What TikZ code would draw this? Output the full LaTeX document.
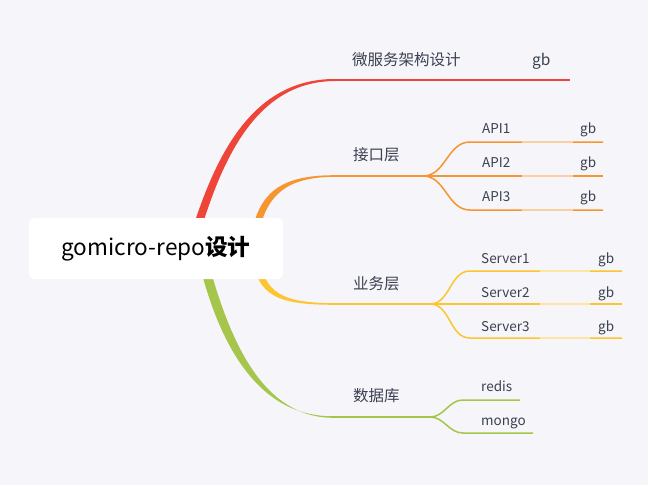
\documentclass[tikz,border=0pt]{standalone}
\usepackage{fontspec}
\setmainfont{Noto Sans CJK SC}
\usetikzlibrary{positioning}
\definecolor{paper}{HTML}{F5F5FA}
\definecolor{redb}{HTML}{EF4538}
\definecolor{orangeb}{HTML}{F7952F}
\definecolor{yellowb}{HTML}{FDC530}
\definecolor{greenb}{HTML}{A5C64A}
\definecolor{ink}{HTML}{3B4151}

\begin{document}
\begin{tikzpicture}
    [x=1pt, y=-1pt,
    topic/.style={anchor=base west, inner sep=0pt, text=ink, font=\fontsize{15.5}{18}\selectfont},
    leaf/.style={anchor=base west, inner sep=0pt, text=ink, font=\fontsize{13.5}{16}\selectfont},
    rootbox/.style={fill=white, rounded corners=5pt, minimum width=254pt, minimum height=61pt, inner sep=0pt, font=\fontsize{22.6}{26}\selectfont},
    twig/.style={line width=1.5pt},
    faded/.style={line width=1.5pt, #1!45}]
     \fill[paper] (0,0) rectangle (648,485);
     \useasboundingbox (0,0) rectangle (648,485);
     % junction points
     \coordinate (t1) at (335,80);  \coordinate (t1e) at (570,80);
     \coordinate (t2) at (335,176); \coordinate (j2) at (423,176);
     \coordinate (t3) at (335,304); \coordinate (j3) at (430,304);
     \coordinate (t4) at (335,417); \coordinate (j4) at (430,417);
     \coordinate (a1) at (470,142); \coordinate (a1e) at (603,142);
     \coordinate (a2e) at (603,176);
     \coordinate (a3) at (470,210); \coordinate (a3e) at (603,210);
     \coordinate (s1) at (470,271); \coordinate (s1e) at (622,271);
     \coordinate (s2e) at (622,304);
     \coordinate (s3) at (470,338); \coordinate (s3e) at (622,338);
     \coordinate (d1) at (463,400); \coordinate (d1e) at (520,400);
     \coordinate (d2) at (463,433); \coordinate (d2e) at (533,433);
     % trunks
     \fill[redb] (186,250) .. controls (211,165) and (247,78.8) .. (335,79)
        -- (335,81) .. controls (253,81.5) and (219,165) .. (195,250) -- cycle;
     \fill[greenb] (196,250) .. controls (214,330) and (251,418.2) .. (335,416.2)
        -- (335,417.8) .. controls (258,419) and (226,330) .. (205,250) -- cycle;
     \fill[orangeb] (249,250) .. controls (255,194) and (277,175.2) .. (335,175.2)
        -- (335,176.8) .. controls (283,177) and (262,197) .. (256,250) -- cycle;
     \fill[yellowb] (252,255) .. controls (257,296) and (277,304.8) .. (335,304.8)
        -- (335,303.2) .. controls (283,303) and (264,294) .. (259,255) -- cycle;
     \node[rootbox] (root) at (156,248.5) {gomicro-repo\textbf{设计}};
     % branches
     \draw[redb, line width=2pt] (t1) -- (t1e);
     \draw[orangeb, twig] (t2) -- (a2e);
     \draw[orangeb, twig] (j2) to[out=0,in=180] (a1) -- (a1e);
     \draw[orangeb, twig] (j2) to[out=0,in=180] (a3) -- (a3e);
     \draw[yellowb, twig] (t3) -- (s2e);
     \draw[yellowb, twig] (j3) to[out=0,in=180] (s1) -- (s1e);
     \draw[yellowb, twig] (j3) to[out=0,in=180] (s3) -- (s3e);
     \draw[greenb, twig] (t4) -- (j4);
     \draw[greenb, twig] (j4) to[out=0,in=180] (d1) -- (d1e);
     \draw[greenb, twig] (j4) to[out=0,in=180] (d2) -- (d2e);
     \foreach \y in {142,176,210} \draw[faded=orangeb] (522,\y) -- (573,\y);
     \foreach \y in {271,304,338} \draw[faded=yellowb] (540,\y) -- (590,\y);
     % labels
     \node[topic] (micro) at (352,65) {微服务架构设计};
     \node[topic] (microgb) at (532,65) {gb};
     \node[topic] (api) at (353,160) {接口层};
     \node[topic] (biz) at (353,289) {业务层};
     \node[topic] (db) at (353,401) {数据库};
     \node[leaf] (api1) at (482,133) {API1};
     \node[leaf] (api2) at (482,167) {API2};
     \node[leaf] (api3) at (482,201) {API3};
     \node[leaf] (api1gb) at (580,133) {gb};
     \node[leaf] (api2gb) at (580,167) {gb};
     \node[leaf] (api3gb) at (580,201) {gb};
     \node[leaf] (srv1) at (481,263) {Server1};
     \node[leaf] (srv2) at (481,297) {Server2};
     \node[leaf] (srv3) at (481,331) {Server3};
     \node[leaf] (srv1gb) at (598,263) {gb};
     \node[leaf] (srv2gb) at (598,297) {gb};
     \node[leaf] (srv3gb) at (598,331) {gb};
     \node[leaf] (redis) at (481,391) {redis};
     \node[leaf] (mongo) at (481,425) {mongo};
\end{tikzpicture}
\end{document}
